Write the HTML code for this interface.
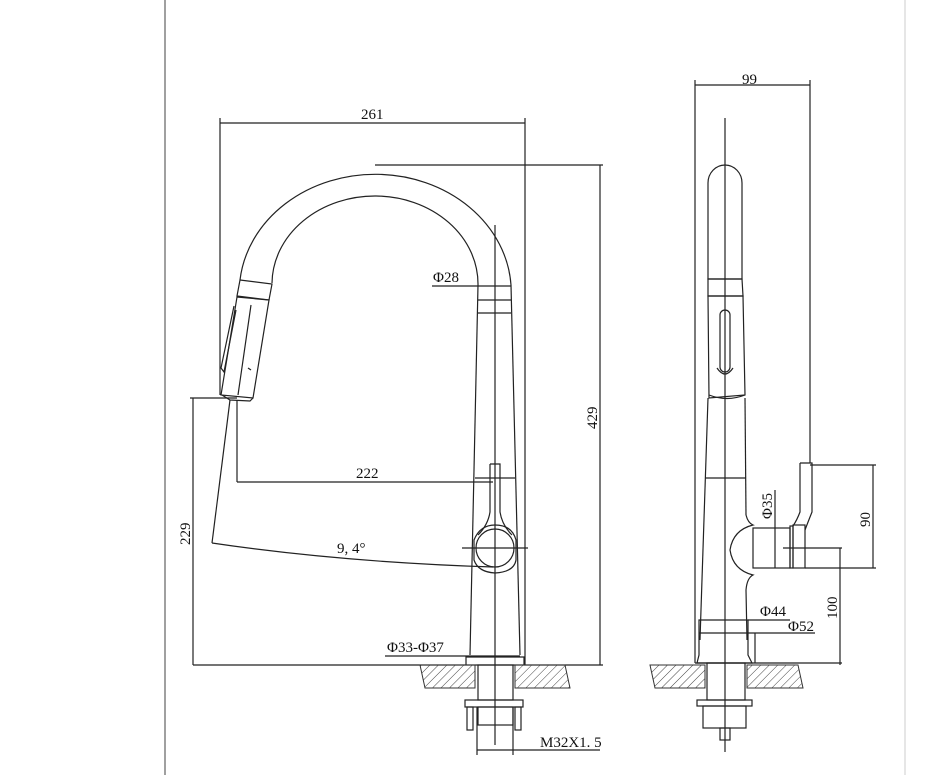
<!DOCTYPE html>
<html><head><meta charset="utf-8"><style>
html,body{margin:0;padding:0;background:#fff;}
svg{display:block;}
text{font-family:"Liberation Serif",serif;font-size:15px;fill:#111;}
</style></head><body>
<svg width="931" height="775" viewBox="0 0 931 775" xmlns="http://www.w3.org/2000/svg">
<defs>
<pattern id="h" width="6" height="6" patternUnits="userSpaceOnUse" patternTransform="rotate(45)">
<line x1="0" y1="0" x2="0" y2="6" stroke="#444" stroke-width="1"/>
</pattern>
</defs>
<line x1="165" y1="0" x2="165" y2="775" stroke="#777" stroke-width="1.4"/>
<line x1="905" y1="0" x2="905" y2="775" stroke="#ccc" stroke-width="1"/>
<g fill="none" stroke="#222" stroke-width="1.2">
<line x1="220" y1="123" x2="525" y2="123"/>
<line x1="220" y1="118" x2="220" y2="395"/>
<line x1="525" y1="118" x2="525" y2="665"/>
<path d="M240,280 A136,118 0 0 1 511,285"/>
<path d="M272,283 A103,88 0 0 1 478,285"/>
<line x1="375" y1="165" x2="603" y2="165"/>
<line x1="600" y1="165" x2="600" y2="665"/>
<path d="M240,280 L272,284 L269,300 L237,296 Z"/>
<path d="M237,297 L269,300 L253,398 L221,395 Z"/>
<line x1="251" y1="305" x2="238" y2="395"/>
<path d="M234,306 L221,368 L224,372 L236,310"/>
<path d="M222,395 L230,400 L250,401 L253,398" />
<line x1="248" y1="368" x2="251" y2="370"/>
<line x1="432" y1="286" x2="511" y2="286"/>
<line x1="478" y1="300" x2="511" y2="300"/>
<line x1="478" y1="313" x2="511" y2="313"/>
<line x1="478" y1="285" x2="470" y2="655"/>
<line x1="511" y1="285" x2="520" y2="655"/>
<line x1="495" y1="225" x2="495" y2="745"/>
<line x1="475" y1="478" x2="515" y2="478"/>
<path d="M490,464 L500,464 L500,512 Q502,525 512,535 M490,464 L490,512 Q488,525 478,535"/>
<circle cx="495" cy="548" r="19"/>
<path d="M474,540 Q480,525 495,525 Q512,525 516,540 L516,560 Q514,572 495,573 Q478,572 474,560 Z"/>
<line x1="462" y1="548" x2="528" y2="548"/>
<line x1="237" y1="400" x2="237" y2="482"/>
<line x1="237" y1="482" x2="493" y2="482"/>
<line x1="230" y1="400" x2="212" y2="543"/>
<path d="M212,543 Q340,562 493,567"/>
<line x1="193" y1="398" x2="193" y2="665"/>
<line x1="190" y1="398" x2="237" y2="398"/>
<line x1="193" y1="665" x2="603" y2="665"/>
<line x1="385" y1="656" x2="520" y2="656"/>
<path d="M466,665 L466,657 L524,657 L524,665"/>
<rect x="478" y="665" width="35" height="35"/>
<rect x="465" y="700" width="58" height="7"/>
<rect x="467" y="707" width="6" height="23"/>
<rect x="515" y="707" width="6" height="23"/>
<rect x="478" y="707" width="35" height="18"/>
<line x1="477" y1="707" x2="477" y2="755"/>
<line x1="513" y1="707" x2="513" y2="755"/>
<line x1="477" y1="750" x2="600" y2="750"/>
</g>
<path d="M420,665 L475,665 L475,688 L425,688 Z" fill="url(#h)" stroke="#333"/>
<path d="M515,665 L565,665 L570,688 L515,688 Z" fill="url(#h)" stroke="#333"/>
<g fill="none" stroke="#222" stroke-width="1.2">
<line x1="695" y1="85" x2="810" y2="85"/>
<line x1="695" y1="80" x2="695" y2="663"/>
<line x1="810" y1="80" x2="810" y2="463"/>
<line x1="725" y1="118" x2="725" y2="752"/>
<path d="M708,279 L708,183 A17,18 0 0 1 742,183 L742,279 Z"/>
<path d="M708,279 L742,279 L743,296 L708,296 Z"/>
<path d="M708,296 L743,296 L745,395 L709,398 Z"/>
<rect x="720" y="310" width="10" height="62" rx="5"/>
<path d="M717,368 Q725,380 733,368"/>
<path d="M709,395 Q727,402 745,395"/>
<line x1="708" y1="398" x2="700" y2="640"/>
<line x1="745" y1="398" x2="746" y2="515"/>
<line x1="705" y1="478" x2="746" y2="478"/>
<path d="M746,515 Q748,523 753,525 Q733,530 730,550 Q733,570 753,575 Q747,578 746,590 L747,640"/>
<rect x="753" y="528" width="37" height="40"/>
<rect x="790" y="526" width="3" height="42"/>
<rect x="793" y="525" width="12" height="43"/>
<path d="M800,463 L812,463 L812,512 Q808,522 805,530 M800,463 L800,512 Q797,520 793,526"/>
<line x1="775" y1="490" x2="775" y2="568"/>
<line x1="810" y1="465" x2="876" y2="465"/>
<line x1="805" y1="568" x2="876" y2="568"/>
<line x1="873" y1="465" x2="873" y2="568"/>
<line x1="783" y1="548" x2="842" y2="548"/>
<line x1="840" y1="548" x2="840" y2="665"/>
<path d="M699,620 L748,620 L748,655 L752,663 L697,663 L699,655 Z"/>
<line x1="699" y1="633" x2="815" y2="633"/>
<line x1="748" y1="620" x2="790" y2="620"/>
<line x1="755" y1="633" x2="755" y2="663"/>
<line x1="695" y1="663" x2="842" y2="663"/>
<rect x="707" y="663" width="38" height="37"/>
<rect x="697" y="700" width="55" height="6"/>
<rect x="703" y="706" width="43" height="22"/>
<rect x="720" y="728" width="10" height="12"/>
</g>
<path d="M650,665 L705,665 L705,688 L655,688 Z" fill="url(#h)" stroke="#333"/>
<path d="M747,665 L798,665 L803,688 L747,688 Z" fill="url(#h)" stroke="#333"/>
<text x="361" y="119">261</text>
<text x="433" y="282">Φ28</text>
<text x="356" y="478">222</text>
<text x="337" y="553">9, 4°</text>
<text x="387" y="652">Φ33-Φ37</text>
<text x="540" y="747">M32X1. 5</text>
<text transform="translate(597,429) rotate(-90)">429</text>
<text transform="translate(190,545) rotate(-90)">229</text>
<text x="742" y="84">99</text>
<text transform="translate(772,519) rotate(-90)">Φ35</text>
<text transform="translate(870,527) rotate(-90)">90</text>
<text transform="translate(837,619) rotate(-90)">100</text>
<text x="760" y="616">Φ44</text>
<text x="788" y="631">Φ52</text>
</svg>
</body></html>
